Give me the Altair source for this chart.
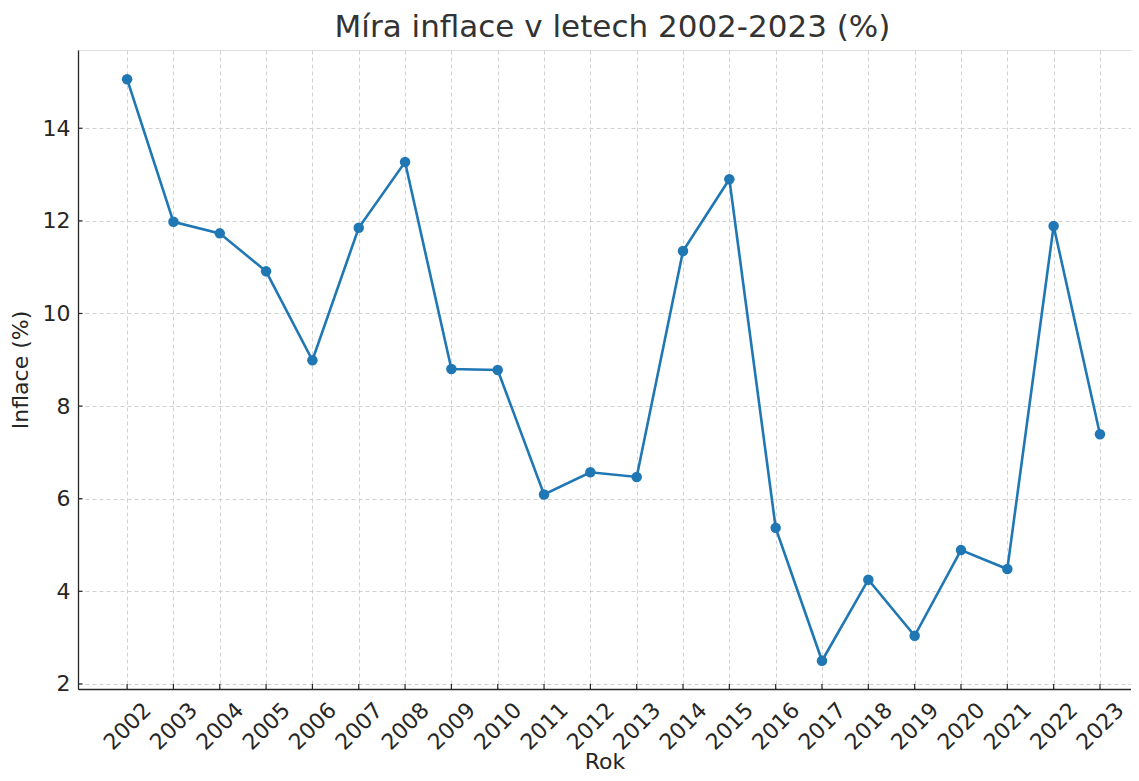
import altair as alt
import pandas as pd

years = list(range(2002, 2024))
inflation = [15.06, 11.98, 11.73, 10.91, 8.99, 11.85, 13.27, 8.80, 8.78, 6.09, 6.57,
             6.47, 11.35, 12.90, 5.37, 2.50, 4.25, 3.04, 4.89, 4.48, 11.89, 7.39]
y_ticks = [2, 4, 6, 8, 10, 12, 14]

df = pd.DataFrame({"Rok": years, "Inflace": inflation})
df_yt = pd.DataFrame({"v": y_ticks})
df_xt = pd.DataFrame({"Rok": years})

W, H = 1053, 639
FONT = "DejaVu Sans"
BLUE = "#1f77b4"
DARK = "#262626"

xscale = alt.Scale(domain=[2000.94, 2023.67], nice=False, zero=False)
yscale = alt.Scale(domain=[1.89, 15.69], nice=False, zero=False)

xaxis = alt.Axis(values=years, format="d", labelAngle=-45, labelAlign="center",
                 labelBaseline="middle", labelPadding=37, ticks=False, tickSize=0,
                 labelOverlap=False, labelFlush=False, labelFontSize=22,
                 labelColor=DARK, labelFont=FONT, titleFontSize=22, titleFont=FONT,
                 titleColor=DARK, titleFontWeight="normal", titlePadding=-2,
                 grid=True, gridDash=[4, 3], gridColor="#cccccc", gridWidth=0.9,
                 domainColor=DARK, domainWidth=1.3)
yaxis = alt.Axis(values=y_ticks, ticks=False, tickSize=0, labelPadding=8,
                 labelFontSize=22, labelColor=DARK, labelFont=FONT,
                 titleFontSize=22, titleFont=FONT, titleColor=DARK,
                 titleFontWeight="normal", titlePadding=10,
                 grid=True, gridDash=[4, 3], gridColor="#cccccc", gridWidth=0.9,
                 domainColor=DARK, domainWidth=1.3)

base = alt.Chart(df).encode(
    x=alt.X("Rok:Q", scale=xscale, axis=xaxis, title="Rok"),
    y=alt.Y("Inflace:Q", scale=yscale, axis=yaxis, title="Inflace (%)"),
)
line = base.mark_line(color=BLUE, strokeWidth=2.6)
pts = base.mark_circle(color=BLUE, size=110, opacity=1)

ytick_marks = alt.Chart(df_yt).mark_rule(color=DARK, strokeWidth=1.2).encode(
    y=alt.Y("v:Q", scale=yscale),
    x=alt.value(0), x2=alt.value(4.5),
)
xtick_marks = alt.Chart(df_xt).mark_rule(color=DARK, strokeWidth=1.2).encode(
    x=alt.X("Rok:Q", scale=xscale),
    y=alt.value(H), y2=alt.value(H - 5),
)

chart = alt.layer(line, pts, ytick_marks, xtick_marks).properties(
    width=W, height=H,
    title=alt.TitleParams("Míra inflace v letech 2002-2023 (%)", fontSize=31,
                          font=FONT, color="#333333", fontWeight="normal",
                          anchor="middle", offset=6, dx=8),
    autosize=alt.AutoSizeParams(type="none"),
    padding={"left": 70, "top": 42, "right": 0, "bottom": 84},
).configure_view(stroke=None).configure(background="white")

chart.save("out.html", embed_options={"renderer": "svg", "actions": False})
